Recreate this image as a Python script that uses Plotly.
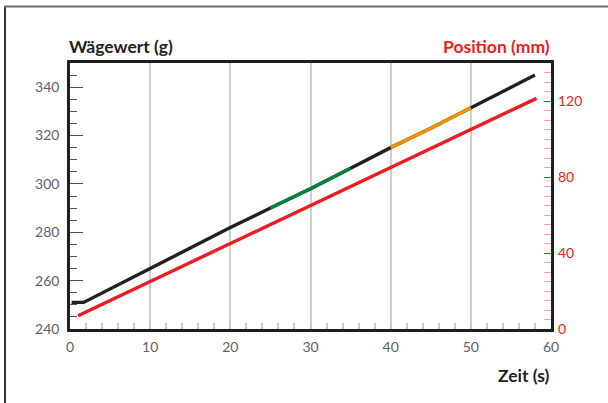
import plotly.graph_objects as go

# ---- data ----
zeit_waege = [0.2, 1.7, 10, 20, 25, 30, 35, 40, 45, 50, 58]
waegewert = [251, 251, 265, 282, 290, 298, 306.5, 315, 323, 331.5, 345]
zeit_pos = [1.0, 10, 20, 30, 40, 50, 58.2]
position = [7, 25, 45, 65, 85, 105, 121.4]
gruen_bereich = [25, 35]
orange_bereich = [40, 50]
x_ticks = [0, 10, 20, 30, 40, 50, 60]
y_ticks = [240, 260, 280, 300, 320, 340]
y2_ticks = [0, 40, 80, 120]

SCHWARZ = "#231f20"
ROT = "#ec1c24"
GRUEN = "#00843d"
ORANGE = "#f39200"
GRAU = "#5f6062"
FONT = "Lato"

W, H = 608, 403
L, R, T, B = 70, 57, 63, 74
PW, PH = W - L - R, H - T - B

def segment(bereich):
    xs, ys = [], []
    for t, v in zip(zeit_waege, waegewert):
        if bereich[0] <= t <= bereich[1]:
            xs.append(t)
            ys.append(v)
    return xs, ys

fig = go.Figure()
fig.add_trace(go.Scatter(x=zeit_pos, y=position, mode="lines", yaxis="y2",
                         line=dict(color=ROT, width=3.4), showlegend=False))
fig.add_trace(go.Scatter(x=zeit_waege, y=waegewert, mode="lines",
                         line=dict(color=SCHWARZ, width=3.4), showlegend=False))
gx, gy = segment(gruen_bereich)
fig.add_trace(go.Scatter(x=gx, y=gy, mode="lines",
                         line=dict(color=GRUEN, width=3.4), showlegend=False))
ox, oy = segment(orange_bereich)
fig.add_trace(go.Scatter(x=ox, y=oy, mode="lines",
                         line=dict(color=ORANGE, width=3.4), showlegend=False))

fig.update_layout(
    width=W, height=H,
    margin=dict(l=L, r=R, t=T, b=B),
    paper_bgcolor="white", plot_bgcolor="white",
    font=dict(family=FONT, size=14, color=GRAU),
    xaxis=dict(range=[0, 60], tickvals=x_ticks, ticks="inside", ticklen=6,
               tickcolor="#c8c8c8", tickwidth=1.5, ticklabelstandoff=3,
               showgrid=True, gridcolor="#cfcfcf", gridwidth=1.5,
               showline=True, linecolor=SCHWARZ, linewidth=2.5, mirror=True,
               zeroline=False, tickfont=dict(size=14, color=GRAU),
               minor=dict(dtick=2, tick0=0, ticks="inside", ticklen=6,
                          tickcolor="#c8c8c8", tickwidth=1.5, showgrid=False)),
    yaxis=dict(range=[240, 350], tickvals=y_ticks, ticks="inside", ticklen=13,
               tickcolor="#555555", tickwidth=1.3, showgrid=False,
               ticklabelstandoff=5,
               showline=True, linecolor=SCHWARZ, linewidth=2.5, mirror=True,
               zeroline=False, tickfont=dict(size=14, color=GRAU),
               minor=dict(dtick=5, tick0=240, ticks="inside", ticklen=7,
                          tickcolor="#555555", tickwidth=1.3)),
    yaxis2=dict(range=[0, 140], tickvals=y2_ticks, overlaying="y", side="right",
                ticks="inside", ticklen=7, tickcolor=ROT, tickwidth=1.3,
                ticklabelstandoff=6,
                showgrid=False, showline=False, zeroline=False,
                tickfont=dict(size=14, color=ROT),
                minor=dict(dtick=5, tick0=0, ticks="inside", ticklen=7,
                           tickcolor="#f5a3a6", tickwidth=1.3)),
    annotations=[
        dict(text="<b>Wägewert (g)</b>", xref="paper", yref="paper",
             x=-3 / PW, y=1 + (T - 46) / PH, xanchor="left", yanchor="middle",
             showarrow=False, font=dict(family=FONT, size=17.5, color=SCHWARZ)),
        dict(text="<b>Position (mm)</b>", xref="paper", yref="paper",
             x=1 + 1 / PW, y=1 + (T - 46) / PH, xanchor="right", yanchor="middle",
             showarrow=False, font=dict(family=FONT, size=17.5, color=ROT)),
        dict(text="<b>Zeit (s)</b>", xref="paper", yref="paper",
             x=1 + 1 / PW, y=-(375 - (H - B)) / PH, xanchor="right", yanchor="middle",
             showarrow=False, font=dict(family=FONT, size=17.5, color=SCHWARZ)),
    ],
    shapes=[
        dict(type="line", xref="paper", yref="paper",
             x0=(5 - L) / PW, x1=(5 - L) / PW,
             y0=1 + (T - 6) / PH, y1=1 + (T - H - 5) / PH,
             line=dict(color="#333333", width=2)),
        dict(type="line", xref="paper", yref="paper",
             x0=(4 - L) / PW, x1=(W + 5 - L) / PW,
             y0=1 + (T - 6.5) / PH, y1=1 + (T - 6.5) / PH,
             line=dict(color="#6d6d6d", width=2)),
    ],
)

fig.write_html("out.html", config={"displayModeBar": False},
               post_script="document.body.style.margin='0';")
